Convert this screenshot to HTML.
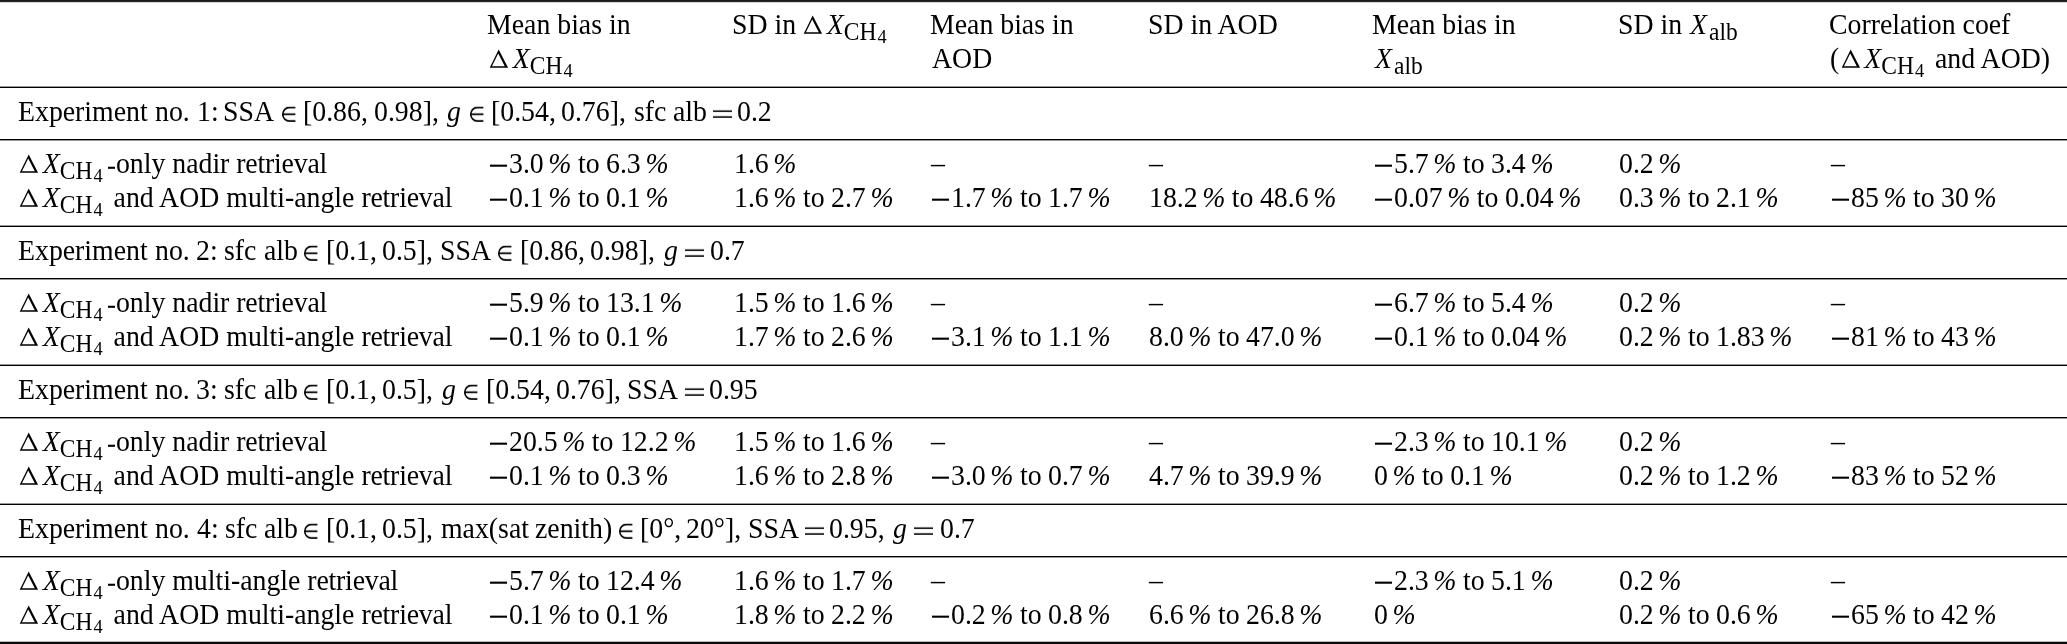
<!DOCTYPE html>
<html><head><meta charset="utf-8">
<style>
html,body{margin:0;padding:0;background:#fff;}
body{width:2067px;height:644px;position:relative;overflow:hidden;font-family:"Liberation Serif",serif;font-size:27.8px;color:#000;}
.r{position:absolute;left:0;width:2067px;}
.t{position:absolute;white-space:nowrap;line-height:34px;height:34px;will-change:transform;transform:scaleY(1.045);transform-origin:0 26.0px;}
.n{word-spacing:-0.5px;}
i{font-style:italic;}
.dl{display:inline-block;overflow:visible;margin-left:1.2px;margin-right:4.6px;}
.s{font-size:23.5px;position:relative;top:5.9px;margin-left:0px;margin-right:4px;}
.ss{font-size:18.4px;position:relative;top:3.1px;margin-left:1px;}
.sa{margin-left:2px;}
.xa{margin-left:1px;}
.mi{display:inline-block;width:17px;height:1.9px;background:#000;vertical-align:5.8px;margin-left:1px;margin-right:2px;}
.el{display:inline-block;vertical-align:-1.1px;}
.eq{display:inline-block;vertical-align:0px;}
.pc{font-style:italic;margin-left:4.6px;}
.rt{letter-spacing:-0.2px;}
.hy{display:inline-block;width:6.5px;height:1.6px;background:#000;vertical-align:4.5px;margin-left:1.5px;margin-right:1.26px;}
</style></head><body>
<div class="r" style="top:0px;height:1px;background:#1a1a1a"></div>
<div class="r" style="top:1px;height:1px;background:#2a2a2a"></div>
<div class="r" style="top:2px;height:1px;background:#d0d0d0"></div>
<div class="r" style="top:86px;height:1px;background:#999"></div>
<div class="r" style="top:87px;height:1px;background:#000"></div>
<div class="r" style="top:139px;height:1px;background:#000"></div>
<div class="r" style="top:140px;height:1px;background:#999"></div>
<div class="r" style="top:225px;height:1px;background:#999"></div>
<div class="r" style="top:226px;height:1px;background:#000"></div>
<div class="r" style="top:278px;height:1px;background:#000"></div>
<div class="r" style="top:279px;height:1px;background:#999"></div>
<div class="r" style="top:364px;height:1px;background:#999"></div>
<div class="r" style="top:365px;height:1px;background:#000"></div>
<div class="r" style="top:417px;height:1px;background:#000"></div>
<div class="r" style="top:418px;height:1px;background:#999"></div>
<div class="r" style="top:503px;height:1px;background:#999"></div>
<div class="r" style="top:504px;height:1px;background:#000"></div>
<div class="r" style="top:556px;height:1px;background:#000"></div>
<div class="r" style="top:557px;height:1px;background:#999"></div>
<div class="r" style="top:641px;height:1px;background:#bbb"></div>
<div class="r" style="top:642px;height:2px;background:#0a0a0a"></div>
<div class="t" style="left:487.30px;top:8.20px">Mean bias in</div>
<div class="t" style="left:489.30px;top:42.00px"><svg class="dl" width="18" height="18" viewBox="0 0 18 18"><path fill-rule="evenodd" d="M-0.3 17.8L8.7 0.3L18.1 17.8ZM1.93 16.3L8.22 4.07L14.79 16.3Z"/></svg><i>X</i><span class="s">CH<span class="ss">4</span></span></div>
<div class="t" style="left:732.40px;top:8.20px">SD in <svg class="dl" width="18" height="18" viewBox="0 0 18 18"><path fill-rule="evenodd" d="M-0.3 17.8L8.7 0.3L18.1 17.8ZM1.93 16.3L8.22 4.07L14.79 16.3Z"/></svg><i>X</i><span class="s">CH<span class="ss">4</span></span></div>
<div class="t" style="left:930.10px;top:8.20px">Mean bias in</div>
<div class="t" style="left:932.10px;top:42.00px">AOD</div>
<div class="t" style="left:1147.60px;top:8.20px">SD in AOD</div>
<div class="t" style="left:1372.40px;top:8.20px">Mean bias in</div>
<div class="t" style="left:1374.40px;top:42.00px"><i class="xa">X</i><span class="s sa">alb</span></div>
<div class="t" style="left:1617.50px;top:8.20px">SD in <i class="xa">X</i><span class="s sa">alb</span></div>
<div class="t" style="left:1829.30px;top:8.20px">Correlation coef</div>
<div class="t" style="left:1829.90px;top:42.00px">(<span style="margin-right:1.2px"></span><svg class="dl" width="18" height="18" viewBox="0 0 18 18"><path fill-rule="evenodd" d="M-0.3 17.8L8.7 0.3L18.1 17.8ZM1.93 16.3L8.22 4.07L14.79 16.3Z"/></svg><i>X</i><span class="s">CH<span class="ss">4</span></span> and AOD)</div>
<div class="t" style="left:17.96px;top:94.60px">Experiment</div>
<div class="t" style="left:154.68px;top:94.60px">no.</div>
<div class="t" style="left:196.72px;top:94.60px">1:</div>
<div class="t" style="left:223.40px;top:94.60px">SSA</div>
<div class="t" style="left:281.18px;top:94.60px"><svg class="el" width="15" height="15" viewBox="0 0 15 15"><path d="M14.4 1.05H8.2A6.45 6.45 0 0 0 8.2 13.95H14.4M1.6 7.5H14.4" fill="none" stroke="#000" stroke-width="1.6"/></svg></div>
<div class="t" style="left:303.22px;top:94.60px">[0.86,</div>
<div class="t" style="left:373.90px;top:94.60px">0.98],</div>
<div class="t" style="left:446.84px;top:94.60px"><i>g</i></div>
<div class="t" style="left:468.58px;top:94.60px"><svg class="el" width="15" height="15" viewBox="0 0 15 15"><path d="M14.4 1.05H8.2A6.45 6.45 0 0 0 8.2 13.95H14.4M1.6 7.5H14.4" fill="none" stroke="#000" stroke-width="1.6"/></svg></div>
<div class="t" style="left:491.42px;top:94.60px">[0.54,</div>
<div class="t" style="left:560.90px;top:94.60px">0.76],</div>
<div class="t" style="left:633.81px;top:94.60px">sfc</div>
<div class="t" style="left:672.98px;top:94.60px">alb</div>
<div class="t" style="left:712.88px;top:94.60px"><svg class="eq" width="19" height="11" viewBox="0 0 19 11"><rect x="0" y="0.8" width="19" height="1.5"/><rect x="0" y="6.4" width="19" height="1.5"/></svg></div>
<div class="t" style="left:737.20px;top:94.60px">0.2</div>
<div class="t" style="left:18.50px;top:146.50px"><svg class="dl" width="18" height="18" viewBox="0 0 18 18"><path fill-rule="evenodd" d="M-0.3 17.8L8.7 0.3L18.1 17.8ZM1.93 16.3L8.22 4.07L14.79 16.3Z"/></svg><i>X</i><span class="s">CH<span class="ss">4</span></span><span class="hy"></span>only nadir <span class="rt">retrieval</span></div>
<div class="t" style="left:18.50px;top:180.50px"><svg class="dl" width="18" height="18" viewBox="0 0 18 18"><path fill-rule="evenodd" d="M-0.3 17.8L8.7 0.3L18.1 17.8ZM1.93 16.3L8.22 4.07L14.79 16.3Z"/></svg><i>X</i><span class="s">CH<span class="ss">4</span></span> and AOD multi-angle <span class="rt">retrieval</span></div>
<div class="t n" style="left:488.50px;top:146.50px"><span class="mi"></span>3.0<span class="pc">%</span> to 6.3<span class="pc">%</span></div>
<div class="t n" style="left:488.50px;top:180.50px"><span class="mi"></span>0.1<span class="pc">%</span> to 0.1<span class="pc">%</span></div>
<div class="t n" style="left:733.60px;top:146.50px">1.6<span class="pc">%</span></div>
<div class="t n" style="left:733.60px;top:180.50px">1.6<span class="pc">%</span> to 2.7<span class="pc">%</span></div>
<div class="t n" style="left:931.30px;top:146.50px">–</div>
<div class="t n" style="left:931.30px;top:180.50px"><span class="mi"></span>1.7<span class="pc">%</span> to 1.7<span class="pc">%</span></div>
<div class="t n" style="left:1148.80px;top:146.50px">–</div>
<div class="t n" style="left:1148.80px;top:180.50px">18.2<span class="pc">%</span> to 48.6<span class="pc">%</span></div>
<div class="t n" style="left:1373.60px;top:146.50px"><span class="mi"></span>5.7<span class="pc">%</span> to 3.4<span class="pc">%</span></div>
<div class="t n" style="left:1373.60px;top:180.50px"><span class="mi"></span>0.07<span class="pc">%</span> to 0.04<span class="pc">%</span></div>
<div class="t n" style="left:1618.70px;top:146.50px">0.2<span class="pc">%</span></div>
<div class="t n" style="left:1618.70px;top:180.50px">0.3<span class="pc">%</span> to 2.1<span class="pc">%</span></div>
<div class="t n" style="left:1830.50px;top:146.50px">–</div>
<div class="t n" style="left:1830.50px;top:180.50px"><span class="mi"></span>85<span class="pc">%</span> to 30<span class="pc">%</span></div>
<div class="t" style="left:17.96px;top:233.60px">Experiment</div>
<div class="t" style="left:154.68px;top:233.60px">no.</div>
<div class="t" style="left:195.66px;top:233.60px">2:</div>
<div class="t" style="left:224.21px;top:233.60px">sfc</div>
<div class="t" style="left:263.58px;top:233.60px">alb</div>
<div class="t" style="left:302.78px;top:233.60px"><svg class="el" width="15" height="15" viewBox="0 0 15 15"><path d="M14.4 1.05H8.2A6.45 6.45 0 0 0 8.2 13.95H14.4M1.6 7.5H14.4" fill="none" stroke="#000" stroke-width="1.6"/></svg></div>
<div class="t" style="left:325.62px;top:233.60px">[0.1,</div>
<div class="t" style="left:381.80px;top:233.60px">0.5],</div>
<div class="t" style="left:439.70px;top:233.60px">SSA</div>
<div class="t" style="left:497.08px;top:233.60px"><svg class="el" width="15" height="15" viewBox="0 0 15 15"><path d="M14.4 1.05H8.2A6.45 6.45 0 0 0 8.2 13.95H14.4M1.6 7.5H14.4" fill="none" stroke="#000" stroke-width="1.6"/></svg></div>
<div class="t" style="left:520.02px;top:233.60px">[0.86,</div>
<div class="t" style="left:589.90px;top:233.60px">0.98],</div>
<div class="t" style="left:663.54px;top:233.60px"><i>g</i></div>
<div class="t" style="left:685.28px;top:233.60px"><svg class="eq" width="19" height="11" viewBox="0 0 19 11"><rect x="0" y="0.8" width="19" height="1.5"/><rect x="0" y="6.4" width="19" height="1.5"/></svg></div>
<div class="t" style="left:709.70px;top:233.60px">0.7</div>
<div class="t" style="left:18.50px;top:285.50px"><svg class="dl" width="18" height="18" viewBox="0 0 18 18"><path fill-rule="evenodd" d="M-0.3 17.8L8.7 0.3L18.1 17.8ZM1.93 16.3L8.22 4.07L14.79 16.3Z"/></svg><i>X</i><span class="s">CH<span class="ss">4</span></span><span class="hy"></span>only nadir <span class="rt">retrieval</span></div>
<div class="t" style="left:18.50px;top:319.50px"><svg class="dl" width="18" height="18" viewBox="0 0 18 18"><path fill-rule="evenodd" d="M-0.3 17.8L8.7 0.3L18.1 17.8ZM1.93 16.3L8.22 4.07L14.79 16.3Z"/></svg><i>X</i><span class="s">CH<span class="ss">4</span></span> and AOD multi-angle <span class="rt">retrieval</span></div>
<div class="t n" style="left:488.50px;top:285.50px"><span class="mi"></span>5.9<span class="pc">%</span> to 13.1<span class="pc">%</span></div>
<div class="t n" style="left:488.50px;top:319.50px"><span class="mi"></span>0.1<span class="pc">%</span> to 0.1<span class="pc">%</span></div>
<div class="t n" style="left:733.60px;top:285.50px">1.5<span class="pc">%</span> to 1.6<span class="pc">%</span></div>
<div class="t n" style="left:733.60px;top:319.50px">1.7<span class="pc">%</span> to 2.6<span class="pc">%</span></div>
<div class="t n" style="left:931.30px;top:285.50px">–</div>
<div class="t n" style="left:931.30px;top:319.50px"><span class="mi"></span>3.1<span class="pc">%</span> to 1.1<span class="pc">%</span></div>
<div class="t n" style="left:1148.80px;top:285.50px">–</div>
<div class="t n" style="left:1148.80px;top:319.50px">8.0<span class="pc">%</span> to 47.0<span class="pc">%</span></div>
<div class="t n" style="left:1373.60px;top:285.50px"><span class="mi"></span>6.7<span class="pc">%</span> to 5.4<span class="pc">%</span></div>
<div class="t n" style="left:1373.60px;top:319.50px"><span class="mi"></span>0.1<span class="pc">%</span> to 0.04<span class="pc">%</span></div>
<div class="t n" style="left:1618.70px;top:285.50px">0.2<span class="pc">%</span></div>
<div class="t n" style="left:1618.70px;top:319.50px">0.2<span class="pc">%</span> to 1.83<span class="pc">%</span></div>
<div class="t n" style="left:1830.50px;top:285.50px">–</div>
<div class="t n" style="left:1830.50px;top:319.50px"><span class="mi"></span>81<span class="pc">%</span> to 43<span class="pc">%</span></div>
<div class="t" style="left:17.96px;top:372.60px">Experiment</div>
<div class="t" style="left:154.68px;top:372.60px">no.</div>
<div class="t" style="left:195.52px;top:372.60px">3:</div>
<div class="t" style="left:224.21px;top:372.60px">sfc</div>
<div class="t" style="left:263.58px;top:372.60px">alb</div>
<div class="t" style="left:303.38px;top:372.60px"><svg class="el" width="15" height="15" viewBox="0 0 15 15"><path d="M14.4 1.05H8.2A6.45 6.45 0 0 0 8.2 13.95H14.4M1.6 7.5H14.4" fill="none" stroke="#000" stroke-width="1.6"/></svg></div>
<div class="t" style="left:325.52px;top:372.60px">[0.1,</div>
<div class="t" style="left:382.40px;top:372.60px">0.5],</div>
<div class="t" style="left:442.14px;top:372.60px"><i>g</i></div>
<div class="t" style="left:462.98px;top:372.60px"><svg class="el" width="15" height="15" viewBox="0 0 15 15"><path d="M14.4 1.05H8.2A6.45 6.45 0 0 0 8.2 13.95H14.4M1.6 7.5H14.4" fill="none" stroke="#000" stroke-width="1.6"/></svg></div>
<div class="t" style="left:485.92px;top:372.60px">[0.54,</div>
<div class="t" style="left:555.60px;top:372.60px">0.76],</div>
<div class="t" style="left:627.30px;top:372.60px">SSA</div>
<div class="t" style="left:684.98px;top:372.60px"><svg class="eq" width="19" height="11" viewBox="0 0 19 11"><rect x="0" y="0.8" width="19" height="1.5"/><rect x="0" y="6.4" width="19" height="1.5"/></svg></div>
<div class="t" style="left:709.40px;top:372.60px">0.95</div>
<div class="t" style="left:18.50px;top:424.50px"><svg class="dl" width="18" height="18" viewBox="0 0 18 18"><path fill-rule="evenodd" d="M-0.3 17.8L8.7 0.3L18.1 17.8ZM1.93 16.3L8.22 4.07L14.79 16.3Z"/></svg><i>X</i><span class="s">CH<span class="ss">4</span></span><span class="hy"></span>only nadir <span class="rt">retrieval</span></div>
<div class="t" style="left:18.50px;top:458.50px"><svg class="dl" width="18" height="18" viewBox="0 0 18 18"><path fill-rule="evenodd" d="M-0.3 17.8L8.7 0.3L18.1 17.8ZM1.93 16.3L8.22 4.07L14.79 16.3Z"/></svg><i>X</i><span class="s">CH<span class="ss">4</span></span> and AOD multi-angle <span class="rt">retrieval</span></div>
<div class="t n" style="left:488.50px;top:424.50px"><span class="mi"></span>20.5<span class="pc">%</span> to 12.2<span class="pc">%</span></div>
<div class="t n" style="left:488.50px;top:458.50px"><span class="mi"></span>0.1<span class="pc">%</span> to 0.3<span class="pc">%</span></div>
<div class="t n" style="left:733.60px;top:424.50px">1.5<span class="pc">%</span> to 1.6<span class="pc">%</span></div>
<div class="t n" style="left:733.60px;top:458.50px">1.6<span class="pc">%</span> to 2.8<span class="pc">%</span></div>
<div class="t n" style="left:931.30px;top:424.50px">–</div>
<div class="t n" style="left:931.30px;top:458.50px"><span class="mi"></span>3.0<span class="pc">%</span> to 0.7<span class="pc">%</span></div>
<div class="t n" style="left:1148.80px;top:424.50px">–</div>
<div class="t n" style="left:1148.80px;top:458.50px">4.7<span class="pc">%</span> to 39.9<span class="pc">%</span></div>
<div class="t n" style="left:1373.60px;top:424.50px"><span class="mi"></span>2.3<span class="pc">%</span> to 10.1<span class="pc">%</span></div>
<div class="t n" style="left:1373.60px;top:458.50px">0<span class="pc">%</span> to 0.1<span class="pc">%</span></div>
<div class="t n" style="left:1618.70px;top:424.50px">0.2<span class="pc">%</span></div>
<div class="t n" style="left:1618.70px;top:458.50px">0.2<span class="pc">%</span> to 1.2<span class="pc">%</span></div>
<div class="t n" style="left:1830.50px;top:424.50px">–</div>
<div class="t n" style="left:1830.50px;top:458.50px"><span class="mi"></span>83<span class="pc">%</span> to 52<span class="pc">%</span></div>
<div class="t" style="left:18.10px;top:511.60px">Experiment</div>
<div class="t" style="left:154.98px;top:511.60px">no.</div>
<div class="t" style="left:196.66px;top:511.60px">4:</div>
<div class="t" style="left:224.71px;top:511.60px">sfc</div>
<div class="t" style="left:263.98px;top:511.60px">alb</div>
<div class="t" style="left:303.08px;top:511.60px"><svg class="el" width="15" height="15" viewBox="0 0 15 15"><path d="M14.4 1.05H8.2A6.45 6.45 0 0 0 8.2 13.95H14.4M1.6 7.5H14.4" fill="none" stroke="#000" stroke-width="1.6"/></svg></div>
<div class="t" style="left:325.52px;top:511.60px">[0.1,</div>
<div class="t" style="left:382.30px;top:511.60px">0.5],</div>
<div class="t" style="left:441.02px;top:511.60px">max(sat</div>
<div class="t" style="left:535.13px;top:511.60px">zenith)</div>
<div class="t" style="left:617.88px;top:511.60px"><svg class="el" width="15" height="15" viewBox="0 0 15 15"><path d="M14.4 1.05H8.2A6.45 6.45 0 0 0 8.2 13.95H14.4M1.6 7.5H14.4" fill="none" stroke="#000" stroke-width="1.6"/></svg></div>
<div class="t" style="left:640.42px;top:511.60px">[0°,</div>
<div class="t" style="left:686.26px;top:511.60px">20°],</div>
<div class="t" style="left:747.80px;top:511.60px">SSA</div>
<div class="t" style="left:804.88px;top:511.60px"><svg class="eq" width="19" height="11" viewBox="0 0 19 11"><rect x="0" y="0.8" width="19" height="1.5"/><rect x="0" y="6.4" width="19" height="1.5"/></svg></div>
<div class="t" style="left:829.20px;top:511.60px">0.95,</div>
<div class="t" style="left:892.94px;top:511.60px"><i>g</i></div>
<div class="t" style="left:913.78px;top:511.60px"><svg class="eq" width="19" height="11" viewBox="0 0 19 11"><rect x="0" y="0.8" width="19" height="1.5"/><rect x="0" y="6.4" width="19" height="1.5"/></svg></div>
<div class="t" style="left:939.80px;top:511.60px">0.7</div>
<div class="t" style="left:18.50px;top:563.50px"><svg class="dl" width="18" height="18" viewBox="0 0 18 18"><path fill-rule="evenodd" d="M-0.3 17.8L8.7 0.3L18.1 17.8ZM1.93 16.3L8.22 4.07L14.79 16.3Z"/></svg><i>X</i><span class="s">CH<span class="ss">4</span></span><span class="hy"></span>only multi-angle <span class="rt">retrieval</span></div>
<div class="t" style="left:18.50px;top:597.50px"><svg class="dl" width="18" height="18" viewBox="0 0 18 18"><path fill-rule="evenodd" d="M-0.3 17.8L8.7 0.3L18.1 17.8ZM1.93 16.3L8.22 4.07L14.79 16.3Z"/></svg><i>X</i><span class="s">CH<span class="ss">4</span></span> and AOD multi-angle <span class="rt">retrieval</span></div>
<div class="t n" style="left:488.50px;top:563.50px"><span class="mi"></span>5.7<span class="pc">%</span> to 12.4<span class="pc">%</span></div>
<div class="t n" style="left:488.50px;top:597.50px"><span class="mi"></span>0.1<span class="pc">%</span> to 0.1<span class="pc">%</span></div>
<div class="t n" style="left:733.60px;top:563.50px">1.6<span class="pc">%</span> to 1.7<span class="pc">%</span></div>
<div class="t n" style="left:733.60px;top:597.50px">1.8<span class="pc">%</span> to 2.2<span class="pc">%</span></div>
<div class="t n" style="left:931.30px;top:563.50px">–</div>
<div class="t n" style="left:931.30px;top:597.50px"><span class="mi"></span>0.2<span class="pc">%</span> to 0.8<span class="pc">%</span></div>
<div class="t n" style="left:1148.80px;top:563.50px">–</div>
<div class="t n" style="left:1148.80px;top:597.50px">6.6<span class="pc">%</span> to 26.8<span class="pc">%</span></div>
<div class="t n" style="left:1373.60px;top:563.50px"><span class="mi"></span>2.3<span class="pc">%</span> to 5.1<span class="pc">%</span></div>
<div class="t n" style="left:1373.60px;top:597.50px">0<span class="pc">%</span></div>
<div class="t n" style="left:1618.70px;top:563.50px">0.2<span class="pc">%</span></div>
<div class="t n" style="left:1618.70px;top:597.50px">0.2<span class="pc">%</span> to 0.6<span class="pc">%</span></div>
<div class="t n" style="left:1830.50px;top:563.50px">–</div>
<div class="t n" style="left:1830.50px;top:597.50px"><span class="mi"></span>65<span class="pc">%</span> to 42<span class="pc">%</span></div>
</body></html>
